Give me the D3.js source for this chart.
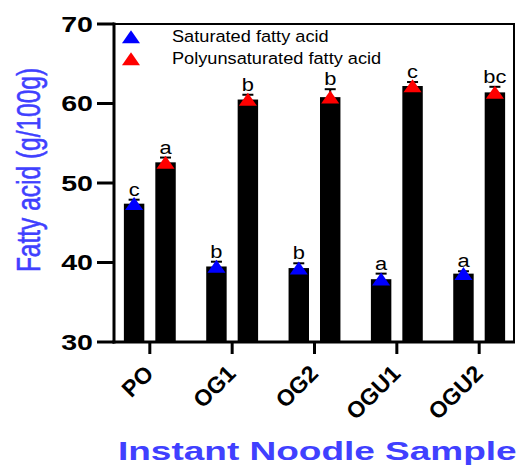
<!DOCTYPE html>
<html>
<head>
<meta charset="utf-8">
<script src="https://cdn.jsdelivr.net/npm/d3@7"></script>
<style>
  body { margin: 0; background: #fff; }
  svg { display: block; font-family: "Liberation Sans", Arial, sans-serif; }
</style>
</head>
<body>
<svg id="chart" width="516" height="466"></svg>
<script>
const categories = ["PO", "OG1", "OG2", "OGU1", "OGU2"];
const seriesNames = ["Saturated fatty acid", "Polyunsaturated fatty acid"];
const sfaValues = [47.4, 39.5, 39.3, 37.9, 38.6];
const sfaErrors = [0.5, 0.6, 0.6, 0.7, 0.3];
const sfaLetters = ["c", "b", "b", "a", "a"];
const pufaValues = [52.6, 60.5, 60.8, 62.2, 61.4];
const pufaErrors = [0.6, 0.6, 1.0, 0.5, 0.7];
const pufaLetters = ["a", "b", "b", "c", "bc"];
const yTicks = [30, 40, 50, 60, 70];
const yTitle = "Fatty acid (g/100g)";
const xTitle = "Instant Noodle Sample";

const seriesColors = ["#0000ff", "#ff0000"];
const titleColor = "#4040ff";

const svg = d3.select("#chart");
const mLeft = 114, mRight = 515, mTop = 24, mBottom = 342;

const x0 = d3.scaleBand().domain(categories).range([mLeft, mRight]).paddingInner(0.37).paddingOuter(0.12);
const x1 = d3.scaleBand().domain([0, 1]).range([0, x0.bandwidth()]).paddingInner(0.35).paddingOuter(0);
const y = d3.scaleLinear().domain([30, 70]).range([mBottom, mTop]);

const data = [];
categories.forEach((c, i) => {
  data.push({cat: c, s: 0, v: sfaValues[i], e: sfaErrors[i], l: sfaLetters[i]});
  data.push({cat: c, s: 1, v: pufaValues[i], e: pufaErrors[i], l: pufaLetters[i]});
});

// frame (top and right)
svg.append("path")
  .attr("d", `M${mLeft},${mTop}H${mRight - 1}V${mBottom}`)
  .attr("fill", "none").attr("stroke", "#000").attr("stroke-width", 2);

// bars
const bx = d => x0(d.cat) + x1(d.s);
svg.append("g").selectAll("rect").data(data).join("rect")
  .attr("x", d => bx(d))
  .attr("y", d => y(d.v))
  .attr("width", x1.bandwidth())
  .attr("height", d => y(30) - y(d.v))
  .attr("fill", "#000");

// error bars (upper)
const eg = svg.append("g").attr("stroke", "#000").attr("stroke-width", 2);
data.forEach(d => {
  const cx = bx(d) + x1.bandwidth() / 2;
  eg.append("line").attr("x1", cx).attr("x2", cx).attr("y1", y(d.v)).attr("y2", y(d.v + d.e));
  eg.append("line").attr("x1", cx - 5.5).attr("x2", cx + 5.5).attr("y1", y(d.v + d.e)).attr("y2", y(d.v + d.e));
});

// triangles
const tri = d3.symbol().type(d3.symbolTriangle).size(98);
svg.append("g").selectAll("path").data(data).join("path")
  .attr("d", tri)
  .attr("transform", d => `translate(${bx(d) + x1.bandwidth() / 2},${y(d.v) + 2}) scale(1.2,1)`)
  .attr("fill", d => seriesColors[d.s]);

// significance letters
svg.append("g").selectAll("text").data(data).join("text")
  .attr("transform", d => `translate(${bx(d) + x1.bandwidth() / 2},${y(d.v + d.e) - 4}) scale(1.15,1)`)
  .attr("text-anchor", "middle")
  .attr("font-size", 19)
  .attr("fill", "#000")
  .text(d => d.l);

// y axis
const yAxis = svg.append("g");
yAxis.append("line").attr("x1", mLeft).attr("x2", mLeft).attr("y1", mTop - 1.5).attr("y2", mBottom + 1.5)
  .attr("stroke", "#000").attr("stroke-width", 3);
yTicks.forEach(t => {
  yAxis.append("line").attr("x1", 97).attr("x2", mLeft).attr("y1", y(t)).attr("y2", y(t))
    .attr("stroke", "#000").attr("stroke-width", 3);
  yAxis.append("text")
    .attr("transform", `translate(93,${y(t)}) scale(1.3,1)`)
    .attr("dy", "0.36em")
    .attr("text-anchor", "end")
    .attr("font-size", 22).attr("font-weight", "bold")
    .text(t);
});

// x axis
const xAxis = svg.append("g");
xAxis.append("line").attr("x1", mLeft - 1.5).attr("x2", mRight).attr("y1", mBottom).attr("y2", mBottom)
  .attr("stroke", "#000").attr("stroke-width", 3);
categories.forEach(c => {
  const cx = x0(c) + x0.bandwidth() / 2;
  xAxis.append("line").attr("x1", cx).attr("x2", cx).attr("y1", mBottom).attr("y2", mBottom + 12)
    .attr("stroke", "#000").attr("stroke-width", 3);
  xAxis.append("text")
    .attr("transform", `translate(${cx + 5},${mBottom + 33}) rotate(-45)`)
    .attr("text-anchor", "end")
    .attr("font-size", 23).attr("font-weight", "bold")
    .text(c);
});

// axis titles
svg.append("text")
  .attr("transform", `translate(40,170) scale(1.35,1) rotate(-90)`)
  .attr("text-anchor", "middle")
  .attr("font-size", 24.5)
  .attr("fill", titleColor)
  .attr("stroke", titleColor).attr("stroke-width", 0.4)
  .text(yTitle);

svg.append("text")
  .attr("transform", `translate(118,460) scale(1.48,1)`)
  .attr("font-size", 25).attr("font-weight", "bold")
  .attr("fill", titleColor)
  .text(xTitle);

// legend
seriesNames.forEach((n, i) => {
  const ly = 37 + i * 22;
  svg.append("path").attr("d", tri)
    .attr("transform", `translate(131,${ly + 2}) scale(1.2,1)`)
    .attr("fill", seriesColors[i]);
  svg.append("text")
    .attr("transform", `translate(172,${ly + 5}) scale(1.07,1)`)
    .attr("font-size", 17)
    .attr("fill", "#000")
    .text(n);
});
</script>
</body>
</html>
